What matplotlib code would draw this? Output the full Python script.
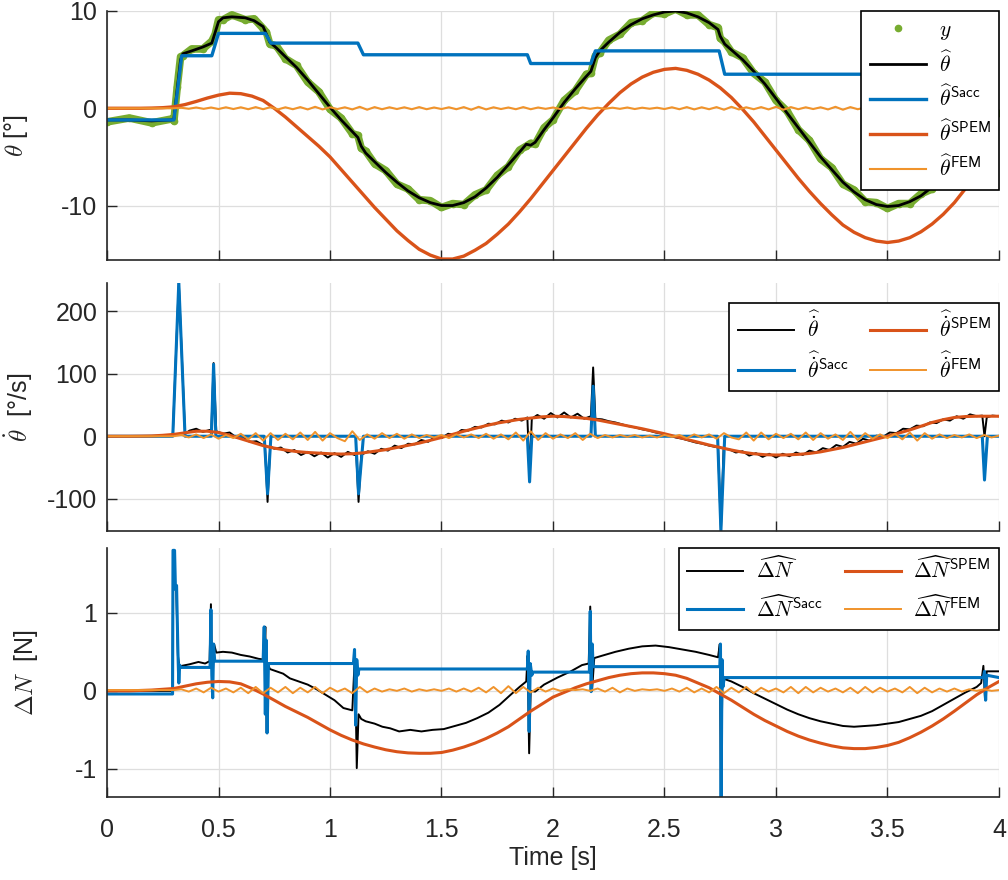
import numpy as np
import matplotlib
matplotlib.use("Agg")
import matplotlib.pyplot as plt

plt.rcParams['font.family'] = ['Liberation Sans', 'DejaVu Sans']
plt.rcParams['mathtext.fontset'] = 'cm'
plt.rcParams['axes.unicode_minus'] = False

# ---------------- data ----------------
# top panel: eye position [deg]
theta_hat = [(0.00, -1.2), (0.10, -1.2), (0.20, -1.3), (0.29, -1.2), (0.30, -1.1), (0.315, 2.0), (0.33, 5.0),
             (0.34, 5.6), (0.38, 5.9), (0.43, 6.3), (0.47, 6.7), (0.485, 7.8), (0.50, 8.9), (0.52, 9.3),
             (0.56, 9.4), (0.62, 9.3), (0.66, 9.0), (0.70, 8.4), (0.715, 7.6), (0.73, 6.8), (0.76, 6.2),
             (0.80, 5.3), (0.85, 4.2), (0.90, 2.9), (0.95, 1.5), (1.00, 0.1), (1.05, -1.2), (1.10, -2.4),
             (1.125, -3.0), (1.14, -3.9), (1.16, -4.6), (1.20, -5.5), (1.25, -6.6), (1.30, -7.6), (1.35, -8.5),
             (1.40, -9.2), (1.45, -9.7), (1.50, -10.0), (1.55, -10.0), (1.60, -9.7), (1.65, -9.1), (1.70, -8.2),
             (1.75, -7.1), (1.80, -5.8), (1.85, -4.5), (1.88, -3.7), (1.90, -3.8), (1.92, -3.5), (1.96, -2.2),
             (2.00, -1.0), (2.05, 0.6), (2.10, 2.0), (2.15, 3.3), (2.17, 3.8), (2.19, 5.2), (2.21, 5.9),
             (2.25, 6.8), (2.30, 7.8), (2.35, 8.6), (2.40, 9.2), (2.45, 9.6), (2.50, 9.9), (2.55, 10.0),
             (2.60, 9.8), (2.65, 9.4), (2.70, 8.8), (2.74, 8.1), (2.75, 7.4), (2.77, 6.6), (2.80, 6.0),
             (2.85, 5.0), (2.90, 3.8), (2.95, 2.5), (3.00, 1.0), (3.05, -0.5), (3.10, -2.0), (3.15, -3.5),
             (3.20, -5.0), (3.25, -6.3), (3.30, -7.6), (3.35, -8.6), (3.40, -9.4), (3.45, -9.9), (3.50, -10.1),
             (3.55, -10.0), (3.60, -9.6), (3.65, -9.0), (3.70, -8.1), (3.75, -7.1), (3.80, -5.9), (3.85, -4.4),
             (3.90, -2.9), (3.93, -2.0), (3.95, -2.3), (4.00, -0.7)]
# measured position y, same sample times as theta_hat
y_meas = [-1.4, -1.0, -1.5, -1.1, -1.3, 2.2, 5.3, 5.4, 6.1, 6.1, 6.9, 7.6, 9.1, 9.1, 9.6, 9.1, 9.2, 8.2, 7.8,
          6.6, 6.4, 5.1, 4.4, 2.7, 1.7, -0.1, -1.0, -2.6, -2.8, -4.1, -4.4, -5.7, -6.4, -7.8, -8.3, -9.4,
          -9.5, -10.2, -9.8, -9.9, -8.9, -8.4, -6.9, -6.0, -4.3, -3.9, -3.6, -3.7, -2.0, -1.2, 0.8, 1.8, 3.5,
          3.6, 5.4, 5.7, 7.0, 7.6, 8.8, 9.0, 9.8, 9.7, 10.2, 9.6, 9.6, 8.6, 8.3, 7.2, 6.8, 5.8, 5.2, 3.6,
          2.7, 0.8, -0.3, -2.2, -3.3, -5.2, -6.1, -7.8, -8.4, -9.6, -9.7, -10.3, -9.8, -9.8, -8.8, -8.3,
          -6.9, -6.1, -4.2, -3.1, -1.8, -2.5, -0.5]
theta_sacc = [(0.00, -1.2), (0.30, -1.2), (0.335, 5.4), (0.47, 5.4), (0.50, 7.7), (0.71, 7.7), (0.735, 6.7),
              (1.125, 6.7), (1.15, 5.5), (1.885, 5.5), (1.90, 4.6), (2.17, 4.6), (2.19, 5.9), (2.745, 5.9),
              (2.77, 3.5), (3.925, 3.5), (3.945, 2.8), (4.00, 2.8)]
# every 0.05 s from 0 to 4 s
theta_spem = [0, 0, 0, 0, 0.02, 0.06, 0.15, 0.38, 0.7, 1.05, 1.35, 1.55, 1.5, 1.25, 0.8, 0.0, -0.9, -1.9,
              -2.9, -3.9, -5.0, -6.3, -7.6, -8.9, -10.2, -11.4, -12.6, -13.6, -14.5, -15.1, -15.5, -15.5,
              -15.2, -14.6, -13.9, -12.95, -11.9, -10.65, -9.3, -7.85, -6.4, -4.95, -3.5, -2.05, -0.7, 0.5,
              1.6, 2.5, 3.2, 3.7, 4.0, 4.1, 3.9, 3.5, 2.9, 2.1, 1.1, -0.1, -1.4, -2.85, -4.3, -5.75, -7.2,
              -8.55, -9.8, -10.95, -12.0, -12.75, -13.3, -13.65, -13.8, -13.65, -13.3, -12.7, -11.9, -10.9,
              -9.7, -8.25, -6.6, -4.9, -3.2]
# 0.30 .. 4.00 s
theta_fem = [0.0, 0.05, -0.05, 0.08, -0.06, 0.08, -0.08, 0.1, -0.08, 0.1, -0.1, 0.12, -0.1, 0.12, -0.12,
             0.1, -0.1, 0.12, -0.12, 0.15, -0.12, 0.1, -0.08, 0.1, -0.12, 0.15, -0.15, 0.12, -0.1, 0.1,
             -0.08, 0.1, -0.1, 0.12, -0.1, 0.08, -0.08, 0.1, -0.1, 0.12, -0.15, 0.15, -0.12, 0.1, -0.08,
             0.08, -0.1, 0.12, -0.1, 0.08, -0.06, 0.08, -0.08, 0.1, -0.1, 0.08, -0.06, 0.06, -0.05, 0.06,
             -0.06, 0.08, -0.08, 0.06, -0.05, 0.06, -0.08, 0.1, -0.1, 0.12, -0.12, 0.1, -0.1, 0.12, -0.15,
             0.15, -0.12, 0.1, -0.1, 0.12, -0.12, 0.15, -0.15, 0.12, -0.1, 0.1, -0.08, 0.1, -0.12, 0.15,
             -0.15, 0.12, -0.1, 0.08, -0.08, 0.1, -0.12, 0.12, -0.1, 0.1, -0.08, 0.08, -0.06, 0.08, -0.08,
             0.06, -0.06, 0.05, -0.05, 0.05, -0.04, 0.03]

# middle panel: eye velocity [deg/s]
vel_hat = [(0.00, 0), (0.28, 0), (0.295, 2), (0.322, 246), (0.35, 4), (0.37, 9), (0.40, 12), (0.43, 7),
           (0.46, 10), (0.468, 10), (0.478, 117), (0.49, 8), (0.52, 4), (0.55, 6), (0.58, -2), (0.61, -1),
           (0.64, -9), (0.67, -8), (0.70, -14), (0.708, -14), (0.72, -105), (0.732, -16), (0.75, -20),
           (0.78, -18), (0.81, -26), (0.84, -22), (0.87, -30), (0.90, -25), (0.93, -32), (0.96, -26),
           (0.99, -34), (1.02, -27), (1.05, -33), (1.08, -25), (1.11, -30), (1.118, -30), (1.128, -105),
           (1.14, -30), (1.17, -24), (1.20, -28), (1.23, -20), (1.26, -23), (1.29, -15), (1.32, -19),
           (1.35, -12), (1.38, -13), (1.41, -6), (1.44, -9), (1.47, -1), (1.50, -3), (1.53, 4), (1.56, 2),
           (1.59, 10), (1.62, 9), (1.65, 15), (1.68, 14), (1.71, 20), (1.74, 19), (1.77, 25), (1.80, 22),
           (1.83, 28), (1.86, 25), (1.885, 30), (1.895, -60), (1.905, 28), (1.93, 34), (1.96, 28),
           (1.99, 37), (2.02, 30), (2.05, 38), (2.08, 30), (2.11, 36), (2.14, 28), (2.17, 32), (2.18, 110),
           (2.19, 28), (2.22, 27), (2.25, 24), (2.28, 22), (2.31, 19), (2.34, 16), (2.37, 14), (2.40, 11),
           (2.43, 9), (2.46, 6), (2.49, 4), (2.52, 1), (2.55, -2), (2.58, -4), (2.61, -7), (2.64, -10),
           (2.67, -12), (2.70, -15), (2.74, -18), (2.753, -151), (2.765, -20), (2.79, -21), (2.82, -26),
           (2.85, -24), (2.88, -31), (2.91, -27), (2.94, -33), (2.97, -28), (3.00, -34), (3.03, -28),
           (3.06, -32), (3.09, -26), (3.12, -30), (3.15, -23), (3.18, -26), (3.21, -19), (3.24, -22),
           (3.27, -14), (3.30, -17), (3.33, -9), (3.36, -12), (3.39, -4), (3.42, -7), (3.45, 1), (3.48, -1),
           (3.51, 6), (3.54, 5), (3.57, 12), (3.60, 11), (3.63, 17), (3.66, 16), (3.69, 22), (3.72, 21),
           (3.75, 27), (3.78, 25), (3.81, 32), (3.84, 28), (3.87, 35), (3.90, 32), (3.925, 33), (3.935, 0),
           (3.945, 30), (3.97, 33), (4.00, 32)]
vel_sacc = [(0.00, 0), (0.295, 0), (0.322, 246), (0.35, 0), (0.468, 0), (0.478, 115), (0.488, 0),
            (0.705, 0), (0.72, -92), (0.735, 0), (1.115, 0), (1.128, -92), (1.15, 0), (1.885, 0),
            (1.895, -73), (1.905, 0), (2.17, 0), (2.18, 80), (2.19, 0), (2.738, 0), (2.753, -151),
            (2.77, 0), (3.925, 0), (3.935, -70), (3.948, 0), (4.00, 0)]
# every 0.05 s from 0 to 4 s
vel_spem = [0, 0, 0, 0.2, 0.5, 1.5, 3, 5.5, 8, 8, 6, 1.5, -4, -9.5, -15, -19, -22, -24.5, -26, -27, -28,
            -28.5, -28, -26.5, -24, -21.5, -18, -14.5, -11, -6.5, -2, 3, 8, 12.5, 17, 21, 24, 27, 29, 31,
            32, 31.5, 30, 28.5, 26, 22.5, 19, 15.5, 12, 8, 4, -0.5, -5, -9.5, -14, -18, -22, -25.5, -28,
            -29.5, -30, -29.8, -29, -27.5, -25, -21.5, -18, -13.5, -9, -4.5, 0, 5, 10, 16, 22, 26.5, 30,
            31.5, 32, 32, 32]
# 0.30 .. 4.00 s
vel_fem = [0, 2, -2, 3, -3, 3, -4, 2, -3, 4, -5, 5, -7, 5, -6, 4, -5, 6,
           -6, 7, -7, 5, -3, -8, 8, -6, 3, -4, 5, -3, 4, -4, 3, -3, 2, -2,
           2, -3, 3, -2, 3, -3, 4, -4, 3, -5, 6, -7, 8, -6, 5, -4, 3, -3,
           5, -6, 4, -3, 2, -2, 2, -1, 2, -2, 1, -2, 2, -1, 2, -3, 3, -2,
           3, -4, 5, -2, -5, 6, -7, 6, -5, 4, -3, 4, -5, 6, -6, 5, -4, 3,
           -6, 7, -6, 5, -4, 3, -3, 4, -5, 6, -7, 5, -4, 3, -3, 2, -2, 3,
           -3, 2, -2, 1]

# bottom panel: delta N [N]
dn_hat = [(0.00, 0.0), (0.294, 0.0), (0.297, 1.75), (0.304, 1.3), (0.31, 1.35), (0.318, 0.45), (0.325, 0.3),
          (0.335, 0.32), (0.37, 0.34), (0.41, 0.37), (0.44, 0.35), (0.46, 0.38), (0.466, 1.11), (0.472, 0.04),
          (0.48, 0.6), (0.49, 0.49), (0.52, 0.50), (0.56, 0.49), (0.60, 0.46), (0.64, 0.44), (0.68, 0.41),
          (0.705, 0.40), (0.71, 0.82), (0.716, -0.54), (0.722, 0.35), (0.73, 0.28), (0.76, 0.25), (0.79, 0.22),
          (0.82, 0.16), (0.86, 0.12), (0.90, 0.08), (0.94, 0.02), (0.98, -0.05), (1.02, -0.12), (1.06, -0.22),
          (1.10, -0.25), (1.112, 0.47), (1.12, -0.99), (1.128, -0.3), (1.14, -0.36), (1.16, -0.39),
          (1.20, -0.42), (1.235, -0.46), (1.27, -0.48), (1.31, -0.52), (1.36, -0.50), (1.41, -0.52),
          (1.46, -0.50), (1.51, -0.49), (1.56, -0.45), (1.61, -0.41), (1.66, -0.35), (1.71, -0.28),
          (1.76, -0.18), (1.81, -0.05), (1.85, 0.05), (1.88, 0.12), (1.886, 0.45), (1.893, -0.8), (1.90, 0.0),
          (1.92, -0.01), (1.96, 0.08), (2.02, 0.17), (2.08, 0.25), (2.13, 0.33), (2.16, 0.35), (2.167, 1.08),
          (2.175, 0.0), (2.185, 0.42), (2.22, 0.45), (2.28, 0.50), (2.34, 0.54), (2.40, 0.57), (2.46, 0.58),
          (2.52, 0.56), (2.58, 0.53), (2.64, 0.50), (2.70, 0.46), (2.74, 0.43), (2.748, 0.6), (2.753, -1.36),
          (2.76, 0.2), (2.77, 0.15), (2.80, 0.12), (2.85, 0.05), (2.90, -0.03), (2.95, -0.10), (3.00, -0.17),
          (3.05, -0.24), (3.10, -0.30), (3.15, -0.35), (3.20, -0.39), (3.25, -0.42), (3.30, -0.45),
          (3.35, -0.46), (3.40, -0.45), (3.45, -0.44), (3.50, -0.42), (3.55, -0.40), (3.60, -0.36),
          (3.65, -0.32), (3.70, -0.26), (3.75, -0.18), (3.80, -0.10), (3.85, -0.02), (3.90, 0.05),
          (3.92, 0.10), (3.93, 0.32), (3.937, -0.1), (3.945, 0.25), (4.00, 0.25)]
dn_sacc = [(0.00, -0.04), (0.294, -0.04), (0.296, 1.8), (0.303, 1.8), (0.307, 1.3), (0.312, 1.35),
           (0.318, 0.5), (0.322, 0.1), (0.326, 0.33), (0.33, 0.30), (0.462, 0.30), (0.466, 1.04),
           (0.470, 0.2), (0.474, -0.09), (0.478, 0.6), (0.483, 0.38), (0.70, 0.38), (0.705, 0.82),
           (0.71, -0.3), (0.714, 0.65), (0.718, -0.54), (0.724, 0.35), (1.105, 0.35), (1.11, 0.53),
           (1.115, -0.44), (1.12, 0.4), (1.125, 0.2), (1.13, 0.28), (1.885, 0.28), (1.889, 0.51),
           (1.893, -0.52), (1.898, 0.35), (1.905, 0.2), (1.91, 0.24), (2.163, 0.24), (2.167, 1.02),
           (2.171, -0.01), (2.176, 0.6), (2.18, 0.31), (2.748, 0.31), (2.751, 0.6), (2.754, -1.36),
           (2.758, 0.4), (2.762, 0.05), (2.768, 0.17), (3.93, 0.17), (3.935, 0.25), (3.94, -0.12),
           (3.945, 0.2), (4.00, 0.17)]
# every 0.05 s from 0 to 4 s
dn_spem = [0, 0, 0, 0.005, 0.01, 0.02, 0.03, 0.06, 0.09, 0.11, 0.12, 0.115, 0.09, 0.03, -0.04, -0.12, -0.2,
           -0.27, -0.34, -0.42, -0.5, -0.57, -0.63, -0.68, -0.72, -0.755, -0.78, -0.795, -0.8, -0.8, -0.79,
           -0.76, -0.72, -0.67, -0.61, -0.54, -0.46, -0.36, -0.26, -0.17, -0.08, -0.02, 0.04, 0.09, 0.13,
           0.17, 0.2, 0.22, 0.23, 0.23, 0.22, 0.2, 0.16, 0.1, 0.04, -0.04, -0.12, -0.21, -0.3, -0.38, -0.45,
           -0.52, -0.58, -0.63, -0.67, -0.705, -0.73, -0.74, -0.74, -0.725, -0.7, -0.66, -0.6, -0.53, -0.45,
           -0.36, -0.26, -0.155, -0.05, 0.04, 0.12]
# 0.30 .. 4.00 s
dn_fem = [0.01, 0.02, -0.01, 0.03, -0.02, 0.04, -0.01, 0.03, -0.02, 0.04, -0.03, 0.05, -0.03, 0.04, -0.02, 0.05, -0.03, 0.04,
          -0.02, 0.05, -0.03, 0.04, -0.01, 0.03, -0.03, 0.05, -0.02, 0.03, -0.01, 0.02, 0.00, 0.03, -0.01, 0.02, 0.00, 0.02,
          0.00, 0.03, -0.01, 0.03, -0.01, 0.04, -0.02, 0.05, -0.03, 0.06, -0.03, 0.05, -0.02, 0.04, -0.01, 0.03, 0.00, 0.02,
          0.01, 0.02, 0.00, 0.03, -0.01, 0.04, -0.02, 0.03, 0.00, 0.02, 0.01, 0.02, 0.00, 0.03, -0.01, 0.04, -0.02, 0.03,
          -0.02, 0.05, -0.03, 0.04, -0.02, 0.05, -0.03, 0.04, -0.01, 0.03, -0.02, 0.05, -0.03, 0.05, -0.02, 0.04, -0.01, 0.03,
          -0.02, 0.04, -0.03, 0.05, -0.02, 0.04, -0.01, 0.03, -0.02, 0.05, -0.03, 0.04, -0.02, 0.03, -0.01, 0.03, -0.01, 0.02,
          0.00, 0.02, 0.00, 0.01]

C_BLUE = '#0072BD'
C_RED = '#D95319'
C_ORANGE = '#F0932B'
C_GREEN = '#77AC30'
C_AX = '#262626'


def split(pairs):
    t, v = zip(*pairs)
    return np.array(t), np.array(v)


def grid_05(vals):
    return np.linspace(0, 4.0, len(vals))


def grid_fem(vals):
    # fem traces are flat before 0.3 s
    return np.concatenate([[0.0], np.linspace(0.30, 4.0, len(vals))]), np.concatenate([[vals[0]], vals])


def style(ax, ylim, yticks):
    ax.set_xlim(0, 4)
    ax.set_ylim(*ylim)
    ax.set_yticks(yticks)
    ax.set_xticks(np.arange(0, 4.01, 0.5))
    ax.grid(True, color='#dedede', linewidth=0.9)
    ax.set_axisbelow(True)
    for s in ['top', 'right']:
        ax.spines[s].set_visible(False)
    for s in ['left', 'bottom']:
        ax.spines[s].set_color(C_AX)
        ax.spines[s].set_linewidth(1.2)
    ax.tick_params(direction='in', length=7, width=1.0, colors=C_AX, labelsize=18, labelcolor=C_AX)
    ax.tick_params(axis='x', pad=15)
    ax.tick_params(axis='y', pad=7)


def add_legend(ax, anchor, ncol, spacing):
    leg = ax.legend(loc='upper right', bbox_to_anchor=anchor, borderaxespad=0, fontsize=15.5, ncol=ncol,
                    fancybox=False, framealpha=1, edgecolor='k', handlelength=2.6, labelspacing=spacing,
                    borderpad=0.4, handletextpad=0.6, columnspacing=1.0)
    leg.get_frame().set_linewidth(1.2)


fig = plt.figure(figsize=(10.08, 8.8), dpi=100)
L, W = 107 / 1008, 892 / 1008
ax1 = fig.add_axes([L, 1 - 260 / 880, W, 249 / 880])
ax2 = fig.add_axes([L, 1 - 531 / 880, W, 248 / 880])
ax3 = fig.add_axes([L, 1 - 797 / 880, W, 249 / 880])

# ---- top ----
t_h, v_h = split(theta_hat)
ax1.plot(t_h, y_meas, '-', color=C_GREEN, lw=5.5, solid_capstyle='round')
ax1.plot(t_h, y_meas, 'o', color=C_GREEN, ms=4.5, label='$y$')
ax1.plot(t_h, v_h, color='k', lw=2.0, label=r'$\widehat{\theta}$')
ts, vs = split(theta_sacc)
ax1.plot(ts, vs, color=C_BLUE, lw=2.4, label=r'$\widehat{\theta}^{\mathsf{Sacc}}$')
ax1.plot(grid_05(theta_spem), theta_spem, color=C_RED, lw=2.4, label=r'$\widehat{\theta}^{\mathsf{SPEM}}$')
tf, vf = grid_fem(theta_fem)
ax1.plot(tf, vf, color=C_ORANGE, lw=1.5, label=r'$\widehat{\theta}^{\mathsf{FEM}}$')
style(ax1, (-15.6, 10), [-10, 0, 10])
ax1.set_xticklabels([])
ax1.set_ylabel(r'$\theta$ [°]', fontsize=18, color=C_AX)
ax1.yaxis.set_label_coords(-0.086, 0.5)
add_legend(ax1, (1.0, 1.0), 1, 0.42)

# ---- middle ----
t_v, v_v = split(vel_hat)
ax2.plot(t_v, v_v, color='k', lw=1.4, label=r'$\widehat{\dot{\theta}}$')
ts, vs = split(vel_sacc)
ax2.plot(ts, vs, color=C_BLUE, lw=2.2, label=r'$\widehat{\dot{\theta}}^{\mathsf{Sacc}}$')
ax2.plot(grid_05(vel_spem), vel_spem, color=C_RED, lw=2.2, label=r'$\widehat{\dot{\theta}}^{\mathsf{SPEM}}$')
tf, vf = grid_fem(vel_fem)
ax2.plot(tf, vf, color=C_ORANGE, lw=1.4, label=r'$\widehat{\dot{\theta}}^{\mathsf{FEM}}$')
style(ax2, (-151.5, 245), [-100, 0, 100, 200])
ax2.set_xticklabels([])
ax2.set_ylabel(r'$\dot{\theta}$  [°/s]', fontsize=18, color=C_AX)
ax2.yaxis.set_label_coords(-0.081, 0.5)
add_legend(ax2, (1.0, 1 - 20 / 248), 2, 0.45)

# ---- bottom ----
t_n, v_n = split(dn_hat)
ax3.plot(t_n, v_n, color='k', lw=1.4, label=r'$\widehat{\Delta N}$')
ts, vs = split(dn_sacc)
ax3.plot(ts, vs, color=C_BLUE, lw=2.2, label=r'$\widehat{\Delta N}^{\mathsf{Sacc}}$')
ax3.plot(grid_05(dn_spem), dn_spem, color=C_RED, lw=2.2, label=r'$\widehat{\Delta N}^{\mathsf{SPEM}}$')
tf, vf = grid_fem(dn_fem)
ax3.plot(tf, vf, color=C_ORANGE, lw=1.4, label=r'$\widehat{\Delta N}^{\mathsf{FEM}}$')
style(ax3, (-1.36, 1.83), [-1, 0, 1])
ax3.set_xticklabels(['0', '0.5', '1', '1.5', '2', '2.5', '3', '3.5', '4'])
ax3.set_xlabel('Time [s]', fontsize=18, color=C_AX, labelpad=3)
ax3.set_ylabel(r'$\Delta N$  [N]', fontsize=18, color=C_AX)
ax3.yaxis.set_label_coords(-0.075, 0.5)
add_legend(ax3, (1.0, 1.0), 2, 0.55)

fig.savefig('out.png', dpi=100)
